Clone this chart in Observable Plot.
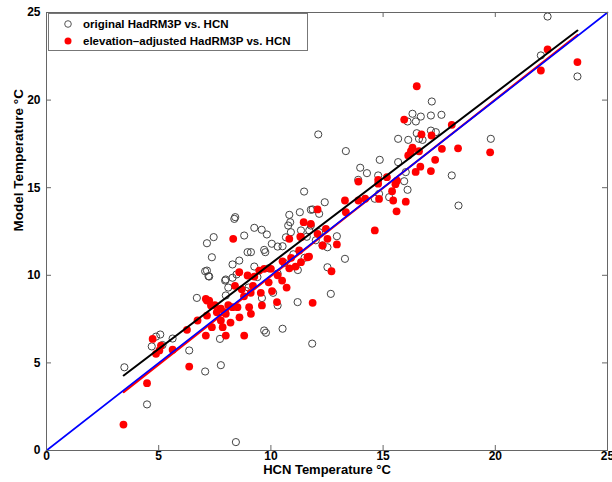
<!DOCTYPE html>
<html><head><meta charset="utf-8">
<script src="https://cdn.jsdelivr.net/npm/d3@7"></script>
<script src="https://cdn.jsdelivr.net/npm/@observablehq/plot@0.6"></script>
<style>
body{margin:0;background:#fff;}
#wrap{position:relative;width:612px;height:482px;overflow:hidden;}
.legend{position:absolute;left:48px;top:13px;width:258px;height:36px;border:1px solid #777;background:#fff;font:bold 11.5px "Liberation Sans",Arial,sans-serif;color:#000;}
.row{position:absolute;left:0;height:16px;line-height:16px;white-space:nowrap;}
.row svg{position:absolute;left:14px;top:3px;}
.row span{position:absolute;left:34px;top:0;}
</style>
</head><body>
<div id="wrap"></div>
<script>
const xTicks = [0, 5, 10, 15, 20, 25];
const yTicks = [0, 5, 10, 15, 20, 25];
const seriesNames = ["original HadRM3P vs. HCN", "elevation\u2013adjusted HadRM3P vs. HCN"];
const xLabel = "HCN Temperature \u00B0C";
const yLabel = "Model Temperature \u00B0C";

// original HadRM3P vs HCN  [HCN, model]
const originalPoints = [
[3.47,4.75],[4.48,2.63],[4.69,5.94],[4.88,6.50],[5.07,6.62],[5.17,6.02],[5.62,6.39],[6.36,5.71],[6.70,8.71],
[7.07,4.51],[7.07,10.23],[7.22,9.95],[7.15,11.83],[7.15,10.27],[7.25,9.93],[7.37,11.03],[7.45,12.18],[7.73,6.37],
[7.77,4.87],[7.96,9.70],[7.99,8.85],[7.99,9.76],[8.10,9.30],[8.29,10.62],[8.29,9.86],[8.37,13.22],[8.41,13.32],
[8.44,0.48],[8.47,10.05],[8.59,10.84],[8.81,12.27],[8.90,9.10],[8.96,11.32],[9.00,9.30],[9.11,11.32],[9.26,12.71],
[9.26,10.50],[9.40,9.90],[9.59,12.60],[9.60,8.70],[9.70,11.45],[9.75,11.32],[9.82,12.33],[9.70,6.85],[9.78,6.72],
[9.90,10.40],[10.04,11.80],[10.10,9.00],[10.30,11.64],[10.30,10.10],[10.30,8.28],[10.52,11.66],[10.52,6.95],
[10.60,10.70],[10.67,12.17],[10.77,12.84],[10.82,13.45],[10.86,13.03],[10.89,12.46],[11.00,11.20],[11.19,8.47],
[11.20,10.30],[11.29,13.60],[11.34,12.56],[11.48,14.78],[11.50,11.00],[11.60,12.20],[11.71,12.56],[11.78,12.84],
[11.78,13.74],[11.84,6.10],[11.86,13.76],[12.00,12.00],[12.11,18.04],[12.15,13.51],[12.15,12.46],[12.30,11.70],
[12.40,14.17],[12.52,11.60],[12.52,10.46],[12.67,8.94],[12.94,12.23],[13.30,10.94],[13.34,17.09],[13.89,15.45],
[13.98,16.14],[14.28,15.83],[14.63,14.37],[14.78,15.70],[14.82,14.65],[14.85,16.59],[15.27,14.46],[15.67,16.46],
[15.67,17.79],[15.94,15.37],[16.01,15.89],[16.09,14.88],[16.09,18.78],[16.12,17.73],[16.31,19.22],[16.46,18.78],
[16.50,18.11],[16.60,17.79],[16.68,19.06],[16.76,17.73],[17.13,19.12],[17.13,18.26],[17.17,19.92],[17.35,18.17],
[17.60,19.16],[18.06,15.70],[18.36,13.98],[19.80,17.79],[22.03,22.55],[22.33,24.77],[23.66,21.35]
];

// elevation-adjusted HadRM3P vs HCN  [HCN, model]
const adjustedPoints = [
[3.43,1.48],[4.48,3.84],[4.73,6.37],[4.88,5.52],[5.03,5.71],[5.10,5.99],[5.62,5.75],[6.26,6.89],[6.36,4.79],
[6.73,7.42],[7.10,6.56],[7.15,7.70],[7.15,8.56],[7.10,8.66],[7.25,8.56],[7.33,8.28],[7.37,7.04],[7.50,8.30],
[7.59,7.89],[7.77,7.42],[7.77,8.09],[7.85,7.04],[7.95,7.89],[7.99,6.56],[7.99,7.80],[8.10,8.30],[8.20,7.30],
[8.29,8.18],[8.32,12.08],[8.40,9.40],[8.51,8.18],[8.59,10.18],[8.60,7.60],[8.70,9.20],[8.80,8.80],[8.81,6.56],
[8.96,9.99],[9.03,8.18],[9.10,9.00],[9.11,7.80],[9.20,9.40],[9.26,9.93],[9.48,10.27],[9.55,9.00],[9.60,8.28],
[9.70,10.37],[9.90,9.60],[10.00,10.37],[10.05,9.10],[10.27,8.47],[10.30,10.00],[10.50,9.70],[10.52,10.80],
[10.70,9.30],[10.82,12.08],[10.82,10.40],[10.90,11.00],[11.10,10.50],[11.26,11.42],[11.31,12.21],[11.34,10.75],
[11.34,12.17],[11.46,13.03],[11.63,11.03],[11.70,11.07],[11.78,12.94],[11.86,8.43],[12.08,13.76],[12.08,12.37],
[12.30,11.70],[12.45,12.65],[12.52,12.08],[12.70,10.23],[12.94,11.76],[13.30,14.27],[13.34,13.60],[13.90,15.35],
[13.90,14.27],[14.20,14.37],[14.63,12.56],[14.78,15.45],[14.78,15.23],[14.82,14.36],[15.17,15.60],[15.40,14.80],
[15.45,14.27],[15.55,15.20],[15.60,13.65],[15.62,15.40],[15.94,18.89],[16.01,14.20],[16.12,16.84],[16.24,17.08],
[16.31,17.28],[16.45,15.90],[16.50,20.79],[16.60,17.08],[16.66,16.20],[16.71,18.04],[17.13,15.95],[17.16,17.98],
[17.32,16.59],[17.62,17.22],[18.06,18.59],[18.34,17.25],[19.77,17.02],[22.03,21.69],[22.33,22.89],[23.66,22.17]
];

// fitted lines [HCN, model]
const originalFit = [[3.44,4.28],[23.66,23.97]];
const adjustedFit = [[3.44,3.33],[23.66,23.72]];
const oneToOne = [[0,0],[25,25]];

const W = 612, H = 482, mL = 46, mR = 5, mT = 12, mB = 32;
const fw = W - mL - mR, fh = H - mT - mB;

const plot = Plot.plot({
  width: W, height: H,
  marginLeft: mL, marginRight: mR, marginTop: mT, marginBottom: mB,
  style: {fontFamily: "'Liberation Sans', Arial, sans-serif", fontWeight: "bold", fontSize: "12px", color: "#000", background: "#fff"},
  x: {domain: [0, 25]},
  y: {domain: [0, 25]},
  marks: [
    Plot.dot(originalPoints, {x: d => d[0], y: d => d[1], r: 3.6, stroke: "#444", strokeWidth: 1, fill: "none"}),
    Plot.dot(adjustedPoints, {x: d => d[0], y: d => d[1], r: 3.9, fill: "#ff0000", stroke: "none"}),
    Plot.line(adjustedFit, {x: d => d[0], y: d => d[1], stroke: "#ff0000", strokeWidth: 2}),
    Plot.line(oneToOne, {x: d => d[0], y: d => d[1], stroke: "#0000ff", strokeWidth: 1.6}),
    Plot.line(originalFit, {x: d => d[0], y: d => d[1], stroke: "#000", strokeWidth: 2}),
    Plot.frame({stroke: "#666", strokeWidth: 1}),
    Plot.ruleX(xTicks, {x: d => d, insetTop: fh - 5, stroke: "#666"}),
    Plot.ruleX(xTicks, {x: d => d, insetBottom: fh - 5, stroke: "#666"}),
    Plot.ruleY(yTicks, {y: d => d, insetRight: fw - 5, stroke: "#666"}),
    Plot.ruleY(yTicks, {y: d => d, insetLeft: fw - 5, stroke: "#666"}),
    Plot.axisX({ticks: xTicks, tickSize: 0, tickPadding: 1, label: null, fontWeight: "bold", fontSize: 12}),
    Plot.axisY({ticks: yTicks, tickSize: 0, tickPadding: 6, label: null, fontWeight: "bold", fontSize: 12}),
    Plot.text([xLabel], {text: d => d, frameAnchor: "bottom", dy: 23.5, fontSize: 13, fontWeight: "bold", fill: "#000"}),
    Plot.text([yLabel], {text: d => d, frameAnchor: "left", rotate: -90, dx: -28, fontSize: 13.5, fontWeight: "bold", fill: "#000"})
  ]
});

const wrap = document.getElementById("wrap");
wrap.appendChild(plot);

const legend = document.createElement("div");
legend.className = "legend";
const markers = [
  '<svg width="10" height="10"><circle cx="5" cy="5" r="3.3" fill="none" stroke="#555" stroke-width="1"/></svg>',
  '<svg width="10" height="10"><circle cx="5" cy="5" r="3.5" fill="#ff0000"/></svg>'
];
seriesNames.forEach((name, i) => {
  const row = document.createElement("div");
  row.className = "row";
  row.style.top = (2 + i * 17) + "px";
  row.innerHTML = markers[i] + "<span></span>";
  row.querySelector("span").textContent = name;
  legend.appendChild(row);
});
wrap.appendChild(legend);
</script>
</body></html>
